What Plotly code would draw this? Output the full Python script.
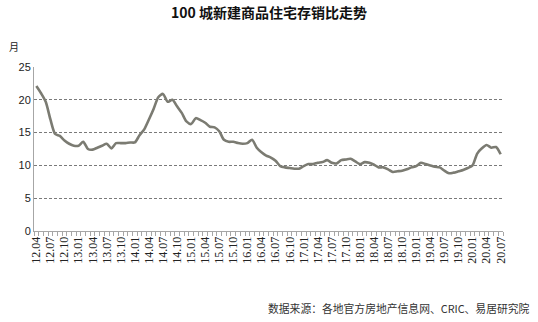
import plotly.graph_objects as go

months = [f"{y:02d}.{m:02d}" for y in range(12, 21) for m in range(1, 13)]
months = months[months.index("12.04"):months.index("20.07") + 1]

values = [
    22.1, 21.0, 19.7, 17.0, 14.8, 14.5, 13.8, 13.3, 13.0, 13.0,
    13.6, 12.5, 12.4, 12.7, 13.0, 13.3, 12.6, 13.4, 13.4, 13.4,
    13.5, 13.5, 14.6, 15.5, 17.0, 18.6, 20.4, 20.9, 19.7, 20.0,
    19.0, 18.0, 16.7, 16.3, 17.2, 16.9, 16.5, 15.9, 15.8, 15.2,
    13.9, 13.6, 13.6, 13.4, 13.3, 13.4, 13.9, 12.7, 12.0, 11.5,
    11.2, 10.7, 9.9, 9.7, 9.6, 9.5, 9.5, 9.9, 10.2, 10.2,
    10.4, 10.5, 10.8, 10.4, 10.3, 10.8, 10.9, 11.0, 10.6, 10.2,
    10.5, 10.4, 10.1, 9.7, 9.7, 9.4, 9.0, 9.1, 9.2, 9.4,
    9.7, 9.9, 10.4, 10.2, 10.0, 9.8, 9.7, 9.2, 8.8, 8.9,
    9.1, 9.3, 9.6, 10.0, 11.8, 12.6, 13.1, 12.7, 12.8, 11.7,
]

label_every = 3
tick_idx = list(range(0, len(months), label_every))
tick_text = [months[i] for i in tick_idx]
y_ticks = [0, 5, 10, 15, 20, 25]

x = list(range(len(months)))

fig = go.Figure()
fig.add_trace(go.Scatter(
    x=x, y=values, mode="lines",
    line=dict(color="#7b7b72", width=2.6, shape="spline", smoothing=0.7),
    hoverinfo="skip", showlegend=False,
))

pw = 538 - 34 - 35
ph = 322 - 67 - 91

fig.update_layout(
    width=538, height=322,
    margin=dict(l=34, r=35, t=67, b=91),
    paper_bgcolor="white", plot_bgcolor="white",
    title=dict(text="<b>100 城新建商品住宅存销比走势</b>", x=0.5, xanchor="center",
               y=1 - 13 / 322, yanchor="middle",
               font=dict(family="Noto Sans CJK SC", size=14, color="#111")),
    xaxis=dict(
        range=[-0.5, len(months) - 0.5],
        tickmode="array", tickvals=tick_idx, ticktext=tick_text,
        tickangle=-90, ticks="", showgrid=False, zeroline=False,
        showline=True, linecolor="#a6a6a6", linewidth=1,
        tickfont=dict(family="Liberation Serif", size=12, color="#222"),
        minor=dict(tickmode="linear", tick0=-0.5, dtick=1, ticks="outside",
                   ticklen=4, tickcolor="#a6a6a6", showgrid=False),
        fixedrange=True,
    ),
    yaxis=dict(
        range=[0, 25], tickmode="array", tickvals=y_ticks,
        showgrid=True, gridcolor="#7a7a7a", griddash="3px,2px", gridwidth=1,
        zeroline=False, showline=True, linecolor="#a6a6a6", linewidth=1,
        ticks="", tickfont=dict(family="Liberation Sans", size=11, color="#222"),
        fixedrange=True,
    ),
    annotations=[
        dict(text="月", xref="paper", yref="paper",
             x=(14 - 34) / pw, y=(322 - 91 - 47) / ph,
             xanchor="center", yanchor="middle", showarrow=False,
             font=dict(family="Noto Sans CJK SC", size=10, color="#222")),
        dict(text="数据来源：各地官方房地产信息网、CRIC、易居研究院",
             xref="paper", yref="paper",
             x=(532 - 34) / pw, y=(322 - 91 - 308) / ph,
             xanchor="right", yanchor="middle", showarrow=False,
             font=dict(family="Noto Sans CJK SC", size=10.8, color="#333")),
    ],
)

fig.write_html("out.html")
